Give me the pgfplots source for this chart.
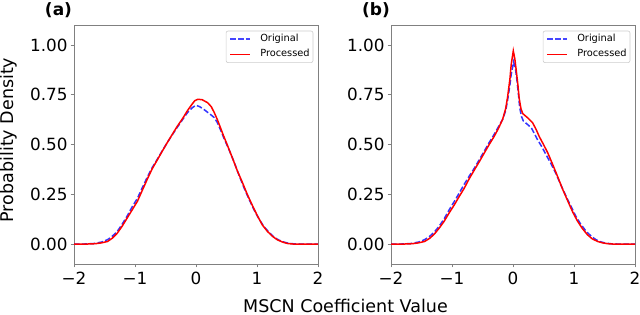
\documentclass[border=0pt]{standalone}
\usepackage{fontspec}
\setmainfont{DejaVu Sans}
\usepackage{pgfplots}
\usepackage{pgfplotstable}
\pgfplotsset{compat=1.18}

\pgfplotstableread{
x y
-2.0 0
-1.8 0
-1.65 0.002
-1.55 0.006
-1.45 0.013
-1.37 0.03
-1.29 0.055
-1.21 0.09
-1.13 0.13
-1.05 0.17
-0.96 0.215
-0.88 0.27
-0.80 0.325
-0.72 0.377
-0.63 0.425
-0.55 0.468
-0.47 0.51
-0.39 0.55
-0.31 0.59
-0.22 0.63
-0.14 0.67
-0.07 0.70
-0.02 0.72
0.03 0.727
0.10 0.725
0.19 0.71
0.25 0.69
0.30 0.66
0.35 0.625
0.40 0.585
0.45 0.545
0.51 0.50
0.60 0.43
0.68 0.366
0.76 0.31
0.84 0.25
0.93 0.19
1.01 0.14
1.09 0.095
1.17 0.064
1.25 0.04
1.33 0.022
1.42 0.01
1.50 0.003
1.60 0
2.0 0
}\procA

\pgfplotstableread{
x y
-2 0
-1.85 0
-1.67 0.003
-1.55 0.01
-1.45 0.022
-1.37 0.04
-1.29 0.064
-1.21 0.10
-1.13 0.14
-1.05 0.185
-0.96 0.23
-0.88 0.283
-0.80 0.335
-0.72 0.383
-0.63 0.428
-0.55 0.47
-0.47 0.51
-0.39 0.548
-0.31 0.585
-0.22 0.625
-0.14 0.66
-0.06 0.685
0.0 0.697
0.06 0.69
0.13 0.676
0.24 0.65
0.30 0.635
0.35 0.61
0.40 0.575
0.46 0.53
0.54 0.475
0.62 0.416
0.70 0.35
0.79 0.28
0.87 0.225
0.95 0.173
1.03 0.128
1.11 0.089
1.20 0.058
1.28 0.034
1.36 0.02
1.44 0.01
1.52 0.004
1.61 0.001
1.75 0
2 0
}\origA

\pgfplotstableread{
x y
-2 0
-1.8 0
-1.65 0.002
-1.55 0.006
-1.45 0.013
-1.37 0.028
-1.29 0.05
-1.21 0.08
-1.13 0.114
-1.05 0.155
-0.96 0.198
-0.88 0.24
-0.80 0.28
-0.72 0.327
-0.63 0.374
-0.55 0.415
-0.47 0.458
-0.39 0.50
-0.31 0.54
-0.24 0.58
-0.17 0.626
-0.12 0.68
-0.09 0.735
-0.05 0.83
-0.03 0.90
0.005 0.97
0.03 0.93
0.05 0.88
0.08 0.80
0.10 0.735
0.13 0.68
0.16 0.655
0.24 0.634
0.32 0.61
0.38 0.575
0.43 0.54
0.50 0.50
0.57 0.458
0.65 0.40
0.73 0.34
0.81 0.278
0.90 0.215
0.98 0.16
1.06 0.114
1.14 0.077
1.22 0.047
1.30 0.026
1.39 0.013
1.47 0.006
1.55 0.002
1.65 0
2 0
}\procB

\pgfplotstableread{
x y
-2 0
-1.85 0
-1.67 0.003
-1.55 0.01
-1.45 0.022
-1.37 0.038
-1.29 0.06
-1.21 0.09
-1.13 0.126
-1.05 0.17
-0.96 0.215
-0.88 0.257
-0.80 0.30
-0.72 0.34
-0.63 0.383
-0.55 0.425
-0.47 0.467
-0.39 0.51
-0.31 0.55
-0.24 0.588
-0.17 0.626
-0.12 0.67
-0.09 0.72
-0.05 0.80
-0.03 0.85
0.01 0.915
0.04 0.88
0.06 0.835
0.09 0.75
0.11 0.685
0.14 0.64
0.17 0.618
0.24 0.60
0.30 0.584
0.35 0.555
0.40 0.525
0.47 0.49
0.54 0.45
0.62 0.405
0.70 0.357
0.78 0.30
0.87 0.24
0.95 0.19
1.03 0.14
1.11 0.10
1.20 0.064
1.28 0.04
1.36 0.022
1.44 0.011
1.52 0.005
1.62 0.001
1.75 0
2 0
}\origB

\definecolor{origblue}{RGB}{0,0,255}
\definecolor{origleg}{RGB}{70,70,255}
\pgfplotsset{
  legend image code/.code={\draw[#1] (0pt,0pt) -- (20pt,0pt);},
  panel/.style={
    scale only axis, width=244pt, height=239pt,
    anchor=south west,
    xmin=-2, xmax=2, ymin=-0.1, ymax=1.1,
    xtick={-2,-1,0,1,2}, xticklabels={−2,−1,0,1,2},
    ytick={0,0.25,0.5,0.75,1}, yticklabels={0.00,0.25,0.50,0.75,1.00},
    tick align=outside, tick pos=left,
    major tick length=3.5pt,
    axis line style={black!50, line width=0.8pt},
    tick style={black!50, line width=0.8pt},
    ticklabel style={font=\fontsize{16.8}{17}\selectfont, text=black, inner sep=0pt},
    xticklabel style={yshift=-4.2pt},
    yticklabel style={xshift=-2.8pt},
    legend style={at={(axis description cs:1,1)}, anchor=north east,
      xshift=-4.7pt, yshift=-5.7pt,
      draw=black!20, rounded corners=2pt, line width=0.6pt,
      inner xsep=3.3pt, inner ysep=3.3pt,
      font=\fontsize{9.8}{10}\selectfont,
      nodes={inner sep=0pt, text height=7.5pt, text depth=2.5pt},
      row sep=5pt, column sep=9.3pt,
      cells={anchor=west}},
    legend cell align=left,
  },
}

\begin{document}
\begin{tikzpicture}
\path[use as bounding box] (0,0) rectangle (640pt,315pt);
\begin{axis}[panel, at={(74pt,51pt)}]
\addlegendimage{color=origleg, draw=origleg, line width=1.6pt, dash pattern=on 5.5pt off 2.4pt}
\addlegendentry{Original}
\addlegendimage{color=red, draw=red, line width=1.5pt}
\addlegendentry{Processed}
\addplot[draw=origblue, draw opacity=0.8, line width=1.5pt, dash pattern=on 5.5pt off 2.4pt, forget plot] table[x=x,y=y] {\origA};
\addplot[draw=red, line width=1.5pt, forget plot] table[x=x,y=y] {\procA};
\end{axis}
\begin{axis}[panel, at={(391pt,51pt)}]
\addlegendimage{color=origleg, draw=origleg, line width=1.6pt, dash pattern=on 5.5pt off 2.4pt}
\addlegendentry{Original}
\addlegendimage{color=red, draw=red, line width=1.5pt}
\addlegendentry{Processed}
\addplot[draw=origblue, draw opacity=0.8, line width=1.5pt, dash pattern=on 5.5pt off 2.4pt, forget plot] table[x=x,y=y] {\origB};
\addplot[draw=red, line width=1.5pt, forget plot] table[x=x,y=y] {\procB};
\end{axis}
\node[font=\fontsize{17}{17}\selectfont\bfseries] at (58.5pt,305pt) {(a)};
\node[font=\fontsize{17}{17}\selectfont\bfseries] at (376pt,305pt) {(b)};
\node[rotate=90, inner sep=0pt, font=\fontsize{17.5}{18}\selectfont] at (8.5pt,175pt) {Probability Density};
\node[inner sep=0pt, font=\fontsize{17.5}{18}\selectfont] at (345.5pt,9.5pt) {MSCN Coefficient Value};
\end{tikzpicture}
\end{document}
